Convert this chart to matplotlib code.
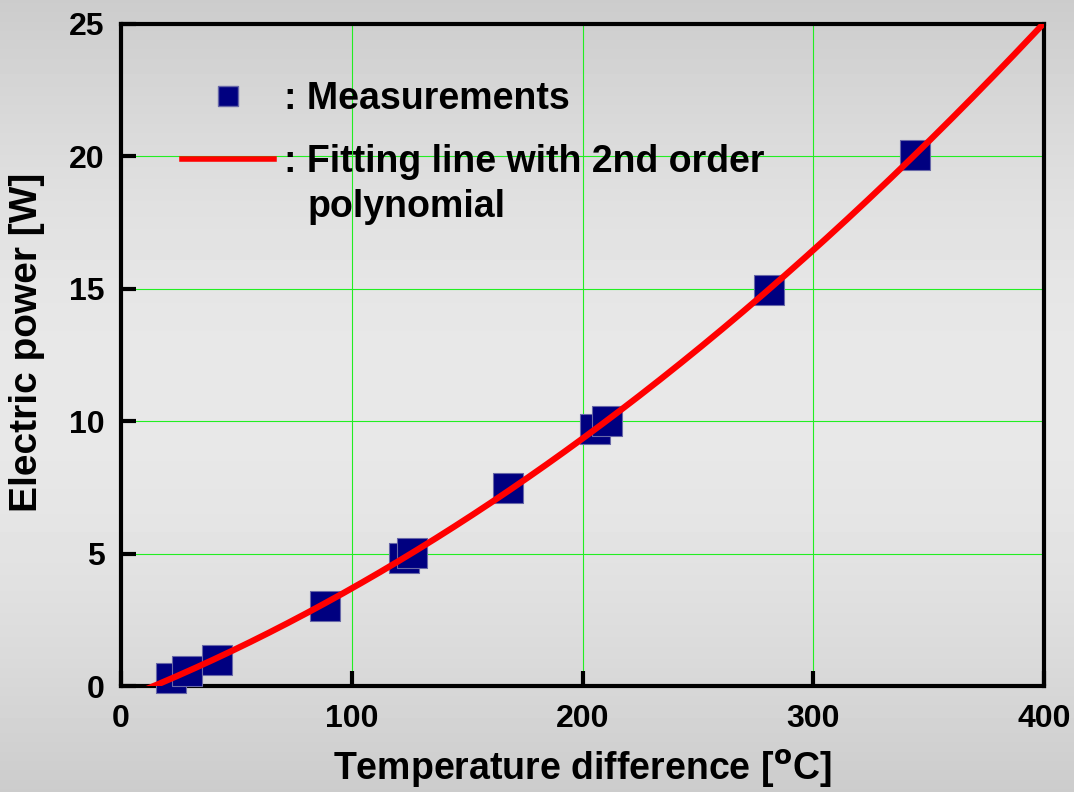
import matplotlib
matplotlib.use("Agg")
import matplotlib.pyplot as plt
import numpy as np
from matplotlib.lines import Line2D

plt.rcParams["font.family"] = ["Liberation Sans", "DejaVu Sans"]
plt.rcParams["font.weight"] = "bold"

temp_diff = [21.5, 28.4, 41.4, 88.6, 122.6, 126.3, 167.5, 205.2, 210.4, 281.0, 343.9]
power = [0.32, 0.56, 1.0, 3.04, 4.85, 5.04, 7.46, 9.69, 9.99, 14.94, 20.07]

x_ticks = [0, 100, 200, 300, 400]
y_ticks = [0, 5, 10, 15, 20, 25]

# 2nd order polynomial fit of the measurements
coef = np.polyfit(temp_diff, power, 2)
x_fit = np.linspace(0, 400, 400)
y_fit = np.polyval(coef, x_fit)

fig = plt.figure(figsize=(10.74, 7.92), dpi=100)

# grey vertical gradient behind everything
bg = fig.add_axes([0, 0, 1, 1], zorder=-1)
t = np.linspace(0, 1, 256)
shade = 0.80 + 0.11 * np.sin(np.pi * t)
bg.imshow(shade[:, None], aspect="auto", cmap="gray", vmin=0, vmax=1)
bg.axis("off")

ax = fig.add_axes([0.1127, 0.1338, 0.8594, 0.8359])
ax.set_facecolor("none")

ax.grid(True, color="#22ee22", lw=0.8, zorder=1)
ax.scatter(temp_diff, power, marker="s", s=21 ** 2, color="#000080",
           edgecolors="#6868a8", linewidths=0.8, zorder=3, clip_on=False)
ax.plot(x_fit, y_fit, color="red", lw=4.5, zorder=4)

ax.set_xlim(0, 400)
ax.set_ylim(0, 25)
ax.set_xticks(x_ticks)
ax.set_yticks(y_ticks)
ax.tick_params(direction="in", length=11, width=3, top=False, right=False)
ax.tick_params(axis="x", labelsize=23, pad=13)
ax.tick_params(axis="y", labelsize=23, pad=12)
for s in ax.spines.values():
    s.set_linewidth(3)

ax.set_xlabel("Temperature difference [$^{\\mathrm{o}}$C]", fontsize=27,
              fontweight="bold", labelpad=10)
ax.set_ylabel("Electric power [W]", fontsize=28, fontweight="bold")
ax.yaxis.set_label_coords(-0.082, 0.519)

handles = [
    Line2D([], [], ls="none", marker="s", markersize=15, color="#000080",
           markeredgecolor="#6868a8"),
    Line2D([], [], color="red", lw=4),
]
labels = [": Measurements", ": Fitting line with 2nd order"]
leg = ax.legend(handles, labels, loc="upper left", bbox_to_anchor=(0.03, 0.965),
                frameon=False, prop={"size": 27, "weight": "bold"},
                handlelength=2.45, handletextpad=0.25, labelspacing=0.72)

# second line of the fitting label, indented under "Fitting"
ax.annotate("polynomial", xy=(0, 1), xycoords=leg.get_texts()[1],
            xytext=(24, -45), textcoords="offset pixels",
            ha="left", va="top", fontsize=27, fontweight="bold", zorder=10)

fig.savefig("out.png", dpi=100)
